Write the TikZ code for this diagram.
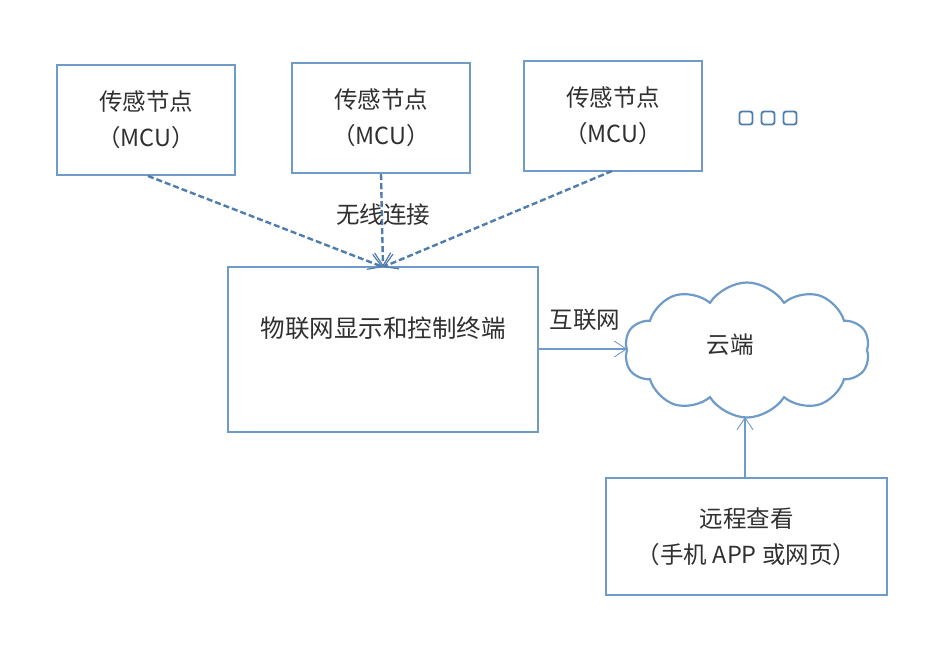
\documentclass[tikz,border=0pt]{standalone}
\usepackage{fontspec}
\setmainfont{Noto Sans CJK SC}
\usetikzlibrary{shapes.symbols,arrows.meta}
\definecolor{boxblue}{HTML}{6E9BC8}
\definecolor{dashblue}{HTML}{4F7DAE}
\definecolor{txt}{HTML}{303030}
\tikzset{
  x=1pt,y=-1pt,
  every node/.style={font=\fontsize{23.5}{36}\selectfont, text=txt},
  box/.style={draw=boxblue, line width=2.2pt, minimum width=178pt, minimum height=110pt, align=center, inner sep=0pt},
  wireless/.style={draw=dashblue, line width=2.4pt, dash pattern=on 6pt off 3pt, -{Straight Barb[length=13pt,width=16pt,line width=1.2pt]}},
  thinarrow/.style={draw=boxblue, line width=1.1pt, -{Straight Barb[length=12pt,width=16pt,line width=0.9pt]}},
  sq/.style={draw=dashblue, line width=1.8pt, rounded corners=2.5pt, minimum size=13pt, inner sep=0pt}
}
\begin{document}
\begin{tikzpicture}
\fill[white] (0,0) rectangle (938,655);
\useasboundingbox (0,0) rectangle (938,655);
\node[box] (s1) at (146,120) {传感节点\\（MCU）};
\node[box] (s2) at (381,118) {传感节点\\（MCU）};
\node[box] (s3) at (613,116) {传感节点\\（MCU）};
\node[sq] (q1) at (746,118) {};
\node[sq] (q2) at (768,118) {};
\node[sq] (q3) at (790,118) {};
\node[box, minimum width=310pt, minimum height=165pt] (c) at (383,349.5) {};
\node[font=\fontsize{24.5}{30}\selectfont] (ct) at (383,328) {物联网显示和控制终端};
\node[cloud, draw=boxblue, line width=2.2pt, cloud puffs=10, cloud puff arc=115, minimum width=245pt, minimum height=135pt, aspect=1.8, inner sep=0pt] (cl) at (747,350) {};
\node (clt) at (730,345) {云端};
\node[box, minimum width=281pt, minimum height=117pt] (r) at (746.5,536.5) {远程查看\\（手机 APP 或网页）};
\coordinate (tip) at (383,267);
\draw[wireless] (148,176) -- (tip);
\draw[wireless] (s2.south) -- (tip);
\draw[wireless] (612,171) -- (tip);
\node (wl) at (383,215) {无线连接};
\coordinate (cin) at (627,349);
\draw[thinarrow] (c.east |- cin) -- (cin);
\node (inet) at (585,320) {互联网};
\coordinate (cbot) at (745,417);
\draw[thinarrow] (r.north -| cbot) -- (cbot);
\end{tikzpicture}
\end{document}
